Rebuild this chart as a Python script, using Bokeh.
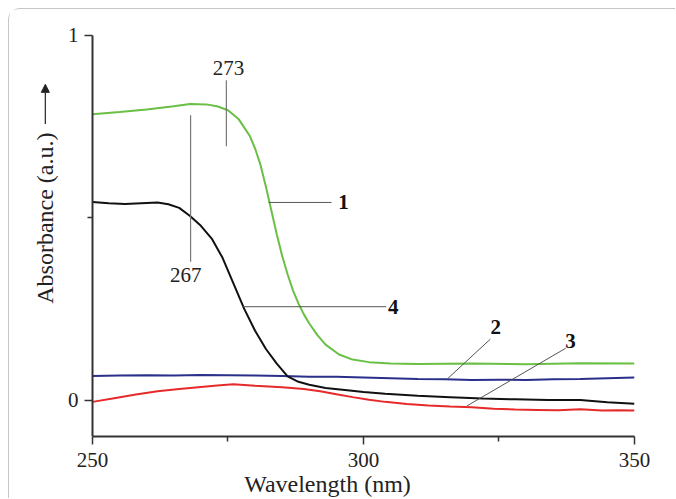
import math
from bokeh.plotting import figure
from bokeh.models import Range1d, FixedTicker, Arrow, NormalHead, GlobalInlineStyleSheet
from bokeh.core.properties import value
from bokeh.embed import file_html
from bokeh.resources import INLINE

# ---- data ----
wl_green = [250, 255, 260, 265, 268, 271, 273, 275, 277, 279, 280, 281, 282, 283, 284, 285, 286,
            287, 288, 289, 290, 291.5, 293, 295.5, 298, 301, 305, 310, 320, 330, 340, 350]
abs_green = [0.784, 0.790, 0.797, 0.806, 0.812, 0.811, 0.806, 0.795, 0.770, 0.725, 0.690, 0.645,
             0.585, 0.520, 0.455, 0.395, 0.345, 0.300, 0.265, 0.235, 0.210, 0.178, 0.152, 0.125,
             0.111, 0.104, 0.100, 0.099, 0.100, 0.098, 0.101, 0.100]

wl_black = [250, 253, 256, 259, 262, 264, 266, 268, 270, 272, 274, 276, 278, 280, 282, 284, 286,
            288, 290, 293, 297, 300, 304, 310, 316, 322, 328, 334, 340, 345, 350]
abs_black = [0.543, 0.540, 0.538, 0.540, 0.542, 0.537, 0.527, 0.505, 0.478, 0.443, 0.390, 0.320,
             0.250, 0.190, 0.140, 0.100, 0.065, 0.050, 0.042, 0.033, 0.027, 0.022, 0.017, 0.012,
             0.008, 0.004, 0.002, 0.000, 0.000, -0.006, -0.010]

wl_blue = [250, 255, 260, 265, 270, 275, 280, 285, 290, 295, 300, 305, 310, 315, 320, 325, 330,
           335, 340, 345, 350]
abs_blue = [0.066, 0.067, 0.068, 0.067, 0.069, 0.068, 0.067, 0.066, 0.064, 0.064, 0.062, 0.060,
            0.058, 0.057, 0.055, 0.056, 0.055, 0.057, 0.058, 0.060, 0.062]

wl_red = [250, 254, 258, 262, 266, 270, 273, 276, 280, 285, 289, 292, 295, 298, 301, 304, 308,
          312, 316, 320, 324, 328, 332, 336, 340, 344, 347, 350]
abs_red = [-0.005, 0.005, 0.015, 0.024, 0.030, 0.036, 0.040, 0.043, 0.039, 0.035, 0.030, 0.024,
           0.016, 0.008, 0.001, -0.005, -0.011, -0.015, -0.018, -0.020, -0.024, -0.026, -0.027,
           -0.028, -0.025, -0.029, -0.028, -0.029]

x_ticks = [250, 300, 350]
x_minor = [275, 325]
y_ticks = [0, 1]
y_minor = [0.5]

peak_labels = ["273", "267"]
curve_labels = ["1", "2", "3", "4"]
y_title = "Absorbance (a.u.)"
x_title = "Wavelength (nm)"

SERIF = "Liberation Serif"
X0, X1 = 250, 350
Y0, Y1 = -0.1, 1.0

p = figure(width=667, height=490, output_backend="svg", toolbar_location=None,
           x_range=Range1d(236.72, X1), y_range=Range1d(Y0, 1.0548),
           min_border_left=11, min_border_right=42, min_border_top=6, min_border_bottom=62)
p.margin = (8, 0, 0, 8)
p.styles = {"border-top": "1px solid #c6c6c6", "border-left": "1px solid #c6c6c6",
            "border-top-left-radius": "12px"}
p.stylesheets = [GlobalInlineStyleSheet(css="html, body {overflow: hidden;}")]
p.outline_line_color = None
p.xgrid.visible = False
p.ygrid.visible = False

for ax in (p.xaxis[0], p.yaxis[0]):
    ax.axis_line_color = "#333333"
    ax.axis_line_width = 2
    ax.major_tick_line_color = "#333333"
    ax.minor_tick_line_color = "#333333"
    ax.major_tick_line_width = 1.5
    ax.minor_tick_line_width = 1.5
    ax.major_tick_in = 0
    ax.major_tick_out = 8
    ax.minor_tick_in = 0
    ax.minor_tick_out = 5
    ax.major_label_text_font = SERIF
    ax.major_label_text_font_size = "21px"
    ax.major_label_text_color = "#222222"
    ax.axis_label_text_font = SERIF
    ax.axis_label_text_font_size = "24px"
    ax.axis_label_text_font_style = "normal"
    ax.axis_label_text_color = "#222222"

p.xaxis.ticker = FixedTicker(ticks=x_ticks, minor_ticks=x_minor)
p.xaxis.bounds = (X0, X1)
p.xaxis.major_label_standoff = 8
p.xaxis.axis_label = x_title
p.xaxis.axis_label_standoff = 1

p.yaxis.ticker = FixedTicker(ticks=y_ticks, minor_ticks=y_minor)
p.yaxis.fixed_location = X0
p.yaxis.bounds = (Y0, Y1)
p.yaxis.major_label_standoff = 6

p.line(wl_green, abs_green, line_color="#6abf45", line_width=2)
p.line(wl_blue, abs_blue, line_color="#2a2f8a", line_width=2)
p.line(wl_red, abs_red, line_color="#e62a2a", line_width=2)
p.line(wl_black, abs_black, line_color="#111111", line_width=2)

# leader lines
p.segment(x0=[274.7, 268.1], y0=[0.877, 0.781], x1=[274.7, 268.1], y1=[0.696, 0.379],
          line_color="#777777", line_width=1.2)
p.segment(x0=[282.5, 315.4, 319.1, 277.7], y0=[0.542, 0.057, -0.016, 0.256],
          x1=[294.1, 323.4, 337.3, 304.2], y1=[0.542, 0.167, 0.142, 0.256],
          line_color="#555555", line_width=1)

p.text(x=[275.1, 267.2], y=[0.91, 0.342], text=peak_labels, text_font=value(SERIF),
       text_font_size="21px", text_align="center", text_baseline="middle", text_color="#222222")
p.text(x=[296.3, 324.4, 338.2, 305.5], y=[0.542, 0.20, 0.162, 0.256], text=curve_labels,
       text_font=value(SERIF), text_font_size="21px", text_font_style="bold",
       text_align="center", text_baseline="middle", text_color="#111111")

# y axis title with arrow, left of the axis
p.text(x=[241.3], y=[0.499], text=[y_title], angle=math.pi / 2, text_font=value(SERIF),
       text_font_size="24px", text_align="center", text_baseline="middle", text_color="#222222")
p.add_layout(Arrow(end=NormalHead(size=8, fill_color="#222222", line_color="#222222"),
                   x_start=241.3, y_start=0.757, x_end=241.3, y_end=0.866,
                   line_color="#222222", line_width=1.2))

open("out.html", "w").write(file_html(p, INLINE))
